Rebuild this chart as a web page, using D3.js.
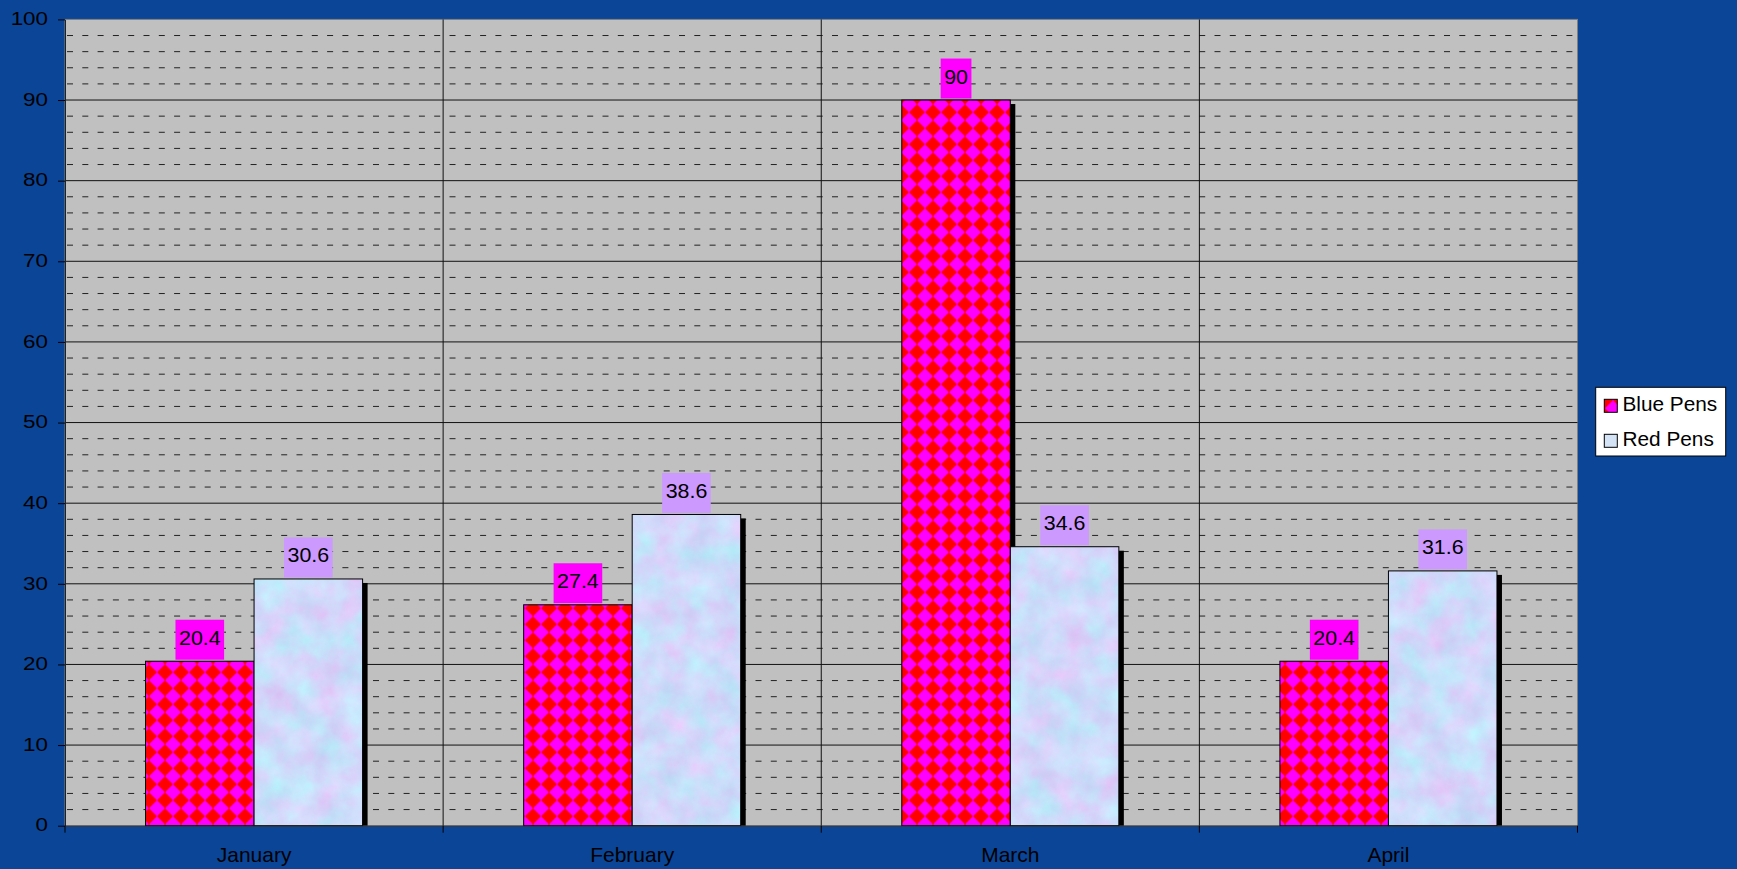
<!DOCTYPE html>
<html>
<head>
<meta charset="utf-8">
<script src="https://cdn.jsdelivr.net/npm/d3@7"></script>
<style>
  html, body { margin: 0; padding: 0; background: #0B4597; }
  svg { display: block; }
  text { font-family: "Liberation Sans", Arial, sans-serif; fill: #000; }
</style>
</head>
<body>
<script>
// ---------- data ----------
const categories = ["January", "February", "March", "April"];
const seriesNames = ["Blue Pens", "Red Pens"];
const bluePens = [20.4, 27.4, 90, 20.4];
const redPens = [30.6, 38.6, 34.6, 31.6];
const yTickValues = [0, 10, 20, 30, 40, 50, 60, 70, 80, 90, 100];

// ---------- layout ----------
const W = 1737, H = 869;
const plot = { left: 65, right: 1577.5, top: 19.4, bottom: 825.7 };

const svg = d3.select("body").append("svg").attr("width", W).attr("height", H);
svg.append("rect").attr("width", W).attr("height", H).attr("fill", "#0B4597");

const defs = svg.append("defs");
// diamond checker pattern for Blue Pens
const pat = defs.append("pattern").attr("id", "diam")
  .attr("patternUnits", "userSpaceOnUse").attr("width", 16).attr("height", 16)
  .attr("x", 13).attr("y", 8.3);
pat.append("rect").attr("width", 16).attr("height", 16).attr("fill", "#FF00FF");
pat.append("path").attr("d", "M8,0 L16,8 L8,16 L0,8 Z").attr("fill", "#FF0000");

// mottled texture for Red Pens
const filt = defs.append("filter").attr("id", "mottle")
  .attr("filterUnits", "objectBoundingBox")
  .attr("x", 0).attr("y", 0).attr("width", 1).attr("height", 1)
  .attr("color-interpolation-filters", "sRGB");
filt.append("feTurbulence").attr("type", "fractalNoise").attr("baseFrequency", 0.035)
  .attr("numOctaves", 5).attr("seed", 7).attr("result", "n");
filt.append("feColorMatrix").attr("in", "n").attr("type", "matrix")
  .attr("values",
    "0.25 0.1 0 0 0.635 " +
    "-0.2 0.1 0 0 0.905 " +
    "0 0.06 0 0 0.95 " +
    "0 0 0 0 1").attr("result", "c");
filt.append("feComposite").attr("in", "c").attr("in2", "SourceGraphic").attr("operator", "in");

// ---------- scales ----------
const x = d3.scaleBand().domain(categories).range([plot.left, plot.right]).paddingInner(0).paddingOuter(0);
const xs = d3.scaleBand().domain(seriesNames).range([0, x.bandwidth()]).paddingInner(0).paddingOuter(0.742);
const y = d3.scaleLinear().domain([0, 100]).range([plot.bottom, plot.top]);

// ---------- plot area ----------
svg.append("rect")
  .attr("x", plot.left).attr("y", plot.top)
  .attr("width", plot.right - plot.left).attr("height", plot.bottom - plot.top)
  .attr("fill", "#C0C0C0").attr("stroke", "#808080").attr("stroke-width", 1);

// minor dashed gridlines
const minor = y.ticks(50).filter(v => v % 10 !== 0);
svg.append("g").selectAll("line").data(minor).join("line")
  .attr("x1", plot.left + 1).attr("x2", plot.right)
  .attr("y1", d => y(d)).attr("y2", d => y(d))
  .attr("stroke", "#222").attr("stroke-width", 1)
  .attr("stroke-dasharray", "6,9.3").attr("stroke-dashoffset", -1);

// major gridlines
svg.append("g").selectAll("line").data(yTickValues.filter(v => v > 0 && v < 100)).join("line")
  .attr("x1", plot.left).attr("x2", plot.right)
  .attr("y1", d => y(d)).attr("y2", d => y(d))
  .attr("stroke", "#111").attr("stroke-width", 1);

// vertical category separators
svg.append("g").selectAll("line").data(categories.slice(1)).join("line")
  .attr("x1", d => x(d)).attr("x2", d => x(d))
  .attr("y1", plot.top).attr("y2", plot.bottom)
  .attr("stroke", "#111").attr("stroke-width", 1);

// ---------- bars ----------
const rows = categories.map((c, i) => ({ cat: c, vals: [
  { s: "Blue Pens", v: bluePens[i] },
  { s: "Red Pens", v: redPens[i] }
]}));

const barsG = svg.append("g");
rows.forEach(r => {
  r.vals.forEach(d => {
    const bx = x(r.cat) + xs(d.s);
    const bw = xs.bandwidth();
    const by = y(d.v);
    const bh = plot.bottom - by;
    // shadow
    barsG.append("rect")
      .attr("x", bx + 5).attr("y", by + 4)
      .attr("width", bw).attr("height", Math.max(0, bh - 4))
      .attr("fill", "#000");
    if (d.s === "Blue Pens") {
      barsG.append("rect")
        .attr("x", bx).attr("y", by).attr("width", bw).attr("height", bh)
        .attr("fill", "url(#diam)").attr("stroke", "#000").attr("stroke-width", 1);
    } else {
      barsG.append("rect")
        .attr("x", bx).attr("y", by).attr("width", bw).attr("height", bh)
        .attr("fill", "#D5E3F7").attr("filter", "url(#mottle)");
      barsG.append("rect")
        .attr("x", bx).attr("y", by).attr("width", bw).attr("height", bh)
        .attr("fill", "none").attr("stroke", "#000").attr("stroke-width", 1);
    }
  });
});

// ---------- axes ----------
const yAxis = svg.append("g").attr("transform", `translate(${plot.left},0)`)
  .call(d3.axisLeft(y).tickValues(yTickValues).tickSize(7).tickSizeOuter(0));
yAxis.select(".domain").attr("stroke", "#222");
yAxis.selectAll(".tick line").attr("stroke", "#000");
yAxis.selectAll(".tick text")
  .attr("font-size", 17.5).attr("font-family", null)
  .attr("dy", null).attr("y", 5.2)
  .attr("x", -17 / 1.28)
  .attr("transform", "scale(1.28,1)")
  .attr("fill", "#000");

const xAxis = svg.append("g").attr("transform", `translate(0,${plot.bottom})`)
  .call(d3.axisBottom(x).tickSize(0).tickSizeOuter(0));
xAxis.select(".domain").attr("stroke", "#333");
xAxis.selectAll(".tick text")
  .attr("font-size", 20).attr("font-family", null)
  .attr("dy", null).attr("y", 36.5)
  .attr("transform", "scale(1.05,1)")
  .attr("fill", "#000");
const bounds = categories.map(c => x(c)).concat([x.range()[1]]);
xAxis.append("g").selectAll("line").data(bounds).join("line")
  .attr("x1", d => d).attr("x2", d => d).attr("y1", 0).attr("y2", 7)
  .attr("stroke", "#000");

// ---------- data labels ----------
const labelG = svg.append("g");
rows.forEach(r => {
  r.vals.forEach(d => {
    const cx = x(r.cat) + xs(d.s) + xs.bandwidth() / 2;
    const top = y(d.v) - 1.5 - 40;
    const g = labelG.append("g").attr("transform", `translate(${cx},${top})`);
    const rect = g.append("rect").attr("y", 0).attr("height", 40)
      .attr("fill", d.s === "Blue Pens" ? "#FF00FF" : "#CC99FF");
    const t = g.append("text").attr("text-anchor", "middle")
      .attr("y", 25).attr("font-size", 20)
      .attr("transform", "scale(1.07,1)")
      .text(String(d.v));
    const w = t.node().getComputedTextLength() * 1.07 + 7;
    rect.attr("x", -w / 2).attr("width", w);
  });
});

// ---------- legend ----------
const leg = svg.append("g");
leg.append("rect").attr("x", 1595.7).attr("y", 387.3).attr("width", 130).attr("height", 68.7)
  .attr("fill", "#fff").attr("stroke", "#000").attr("stroke-width", 1);
seriesNames.forEach((s, i) => {
  const yy = 399.3 + i * 35;
  leg.append("rect").attr("x", 1604.3).attr("y", yy).attr("width", 13).attr("height", 13)
    .attr("fill", s === "Blue Pens" ? "url(#diam)" : "#D5E3F7")
    .attr("stroke", "#000").attr("stroke-width", 1);
  leg.append("text").attr("x", 1622.5 / 1.04).attr("y", yy + 11.6)
    .attr("font-size", 20).attr("transform", "scale(1.04,1)")
    .text(s);
});
</script>
</body>
</html>
